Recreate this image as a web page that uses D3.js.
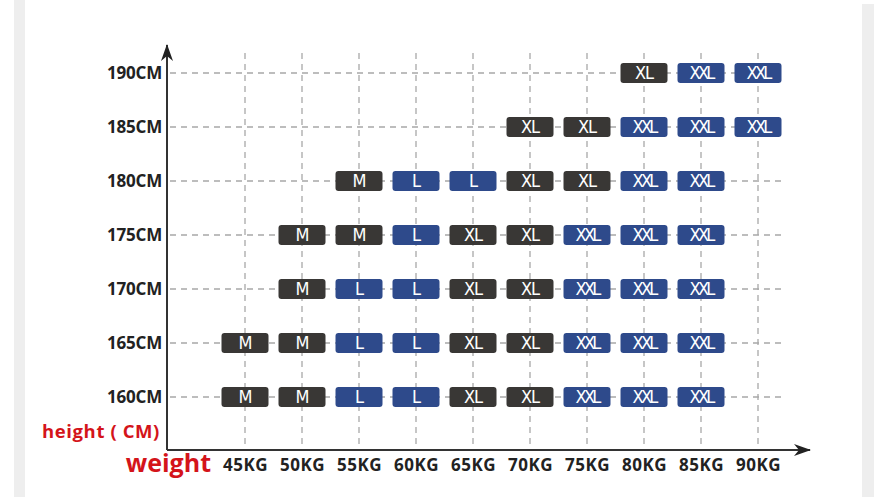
<!DOCTYPE html>
<html>
<head>
<meta charset="utf-8">
<script src="https://cdn.jsdelivr.net/npm/d3@7"></script>
<style>
  html, body { margin: 0; padding: 0; background: #fff; }
  svg { display: block; }
</style>
</head>
<body>
<svg></svg>
<script>
// weights along x, heights along y
const weights = [45, 50, 55, 60, 65, 70, 75, 80, 85, 90];
const heights = [160, 165, 170, 175, 180, 185, 190];

// size per weight column, one list per height row (null = no size)
const sizes160 = ["M", "M", "L", "L", "XL", "XL", "XXL", "XXL", "XXL", null];
const sizes165 = ["M", "M", "L", "L", "XL", "XL", "XXL", "XXL", "XXL", null];
const sizes170 = [null, "M", "L", "L", "XL", "XL", "XXL", "XXL", "XXL", null];
const sizes175 = [null, "M", "M", "L", "XL", "XL", "XXL", "XXL", "XXL", null];
const sizes180 = [null, null, "M", "L", "L", "XL", "XL", "XXL", "XXL", null];
const sizes185 = [null, null, null, null, null, "XL", "XL", "XXL", "XXL", "XXL"];
const sizes190 = [null, null, null, null, null, null, null, "XL", "XXL", "XXL"];

const sizeRows = [sizes160, sizes165, sizes170, sizes175, sizes180, sizes185, sizes190];

const cells = [];
heights.forEach((h, i) => {
  sizeRows[i].forEach((s, j) => {
    if (s) cells.push({height: h, weight: weights[j], size: s});
  });
});

const width = 885;
const height = 497;
const axisX = 167;   // where the y axis sits
const axisY = 450;   // where the x axis sits

const x = d3.scalePoint()
    .domain(weights)
    .range([245, 758]);

const y = d3.scalePoint()
    .domain(heights)
    .range([397, 73]);

const color = d3.scaleOrdinal()
    .domain(["M", "L", "XL", "XXL"])
    .range(["#393735", "#2e4a8b", "#393735", "#2e4a8b"]);

const svg = d3.select("svg")
    .attr("width", width)
    .attr("height", height)
    .attr("viewBox", [0, 0, width, height]);

// grey side strips of the card
svg.append("rect").attr("x", 14).attr("y", 0).attr("width", 11).attr("height", height).attr("fill", "#eeeeee");
svg.append("rect").attr("x", 862).attr("y", 4).attr("width", 12).attr("height", height - 4).attr("fill", "#eeeeee");

const defs = svg.append("defs");
defs.append("marker")
    .attr("id", "arrow")
    .attr("viewBox", "0 0 17 12")
    .attr("refX", 16).attr("refY", 6)
    .attr("markerWidth", 17).attr("markerHeight", 12)
    .attr("markerUnits", "userSpaceOnUse")
    .attr("orient", "auto")
  .append("path")
    .attr("d", "M0,0 L17,6 L0,12 L5,6 Z")
    .attr("fill", "#222");

// dashed grid
const grid = svg.append("g")
    .attr("stroke", "#a8a8a8")
    .attr("stroke-width", 1.3)
    .attr("stroke-dasharray", "6,5");

grid.selectAll("line.v")
  .data(weights)
  .join("line")
    .attr("class", "v")
    .attr("x1", d => x(d)).attr("x2", d => x(d))
    .attr("y1", 53).attr("y2", axisY);

grid.selectAll("line.h")
  .data(heights)
  .join("line")
    .attr("class", "h")
    .attr("x1", axisX + 3).attr("x2", 785)
    .attr("y1", d => y(d)).attr("y2", d => y(d));

// size boxes
const boxW = 47, boxH = 20;
const box = svg.append("g")
  .selectAll("g")
  .data(cells)
  .join("g")
    .attr("transform", d => `translate(${x(d.weight)},${y(d.height)})`);

box.append("rect")
    .attr("x", -boxW / 2).attr("y", -boxH / 2)
    .attr("width", boxW).attr("height", boxH)
    .attr("rx", 3)
    .attr("fill", d => color(d.size));

box.append("text")
    .attr("text-anchor", "middle")
    .attr("dy", "0.36em")
    .attr("fill", "#fff")
    .attr("font-family", "'Liberation Sans Narrow', 'DejaVu Sans Condensed', sans-serif")
    .attr("font-size", 18)
    .attr("letter-spacing", d => d.size === "XXL" ? -2.8 : -1)
    .text(d => d.size);

// axes lines with arrows
svg.append("line")
    .attr("x1", axisX).attr("y1", axisY)
    .attr("x2", axisX).attr("y2", 45)
    .attr("stroke", "#333").attr("stroke-width", 2)
    .attr("marker-end", "url(#arrow)");

svg.append("line")
    .attr("x1", axisX).attr("y1", axisY)
    .attr("x2", 810).attr("y2", axisY)
    .attr("stroke", "#333").attr("stroke-width", 2)
    .attr("marker-end", "url(#arrow)");

// tick labels
svg.append("g")
    .attr("transform", `translate(${axisX - 5},0)`)
    .call(d3.axisLeft(y).tickSize(0).tickPadding(0).tickFormat(d => d + "CM"))
    .call(g => g.select(".domain").remove())
    .call(g => g.selectAll("text")
        .attr("fill", "#222")
        .attr("font-family", "'Open Sans', sans-serif")
        .attr("font-weight", "bold")
        .attr("font-size", 17)
        .attr("letter-spacing", -0.2));

svg.append("g")
    .attr("transform", `translate(0,${axisY + 9})`)
    .call(d3.axisBottom(x).tickSize(0).tickPadding(0).tickFormat(d => d + "KG"))
    .call(g => g.select(".domain").remove())
    .call(g => g.selectAll("text")
        .attr("fill", "#222")
        .attr("font-family", "'Open Sans', sans-serif")
        .attr("font-weight", "bold")
        .attr("font-size", 17)
        .attr("letter-spacing", 0.5));

// axis titles
svg.append("text")
    .attr("x", 160).attr("y", 438)
    .attr("text-anchor", "end")
    .attr("fill", "#d4141a")
    .attr("font-family", "'Open Sans', sans-serif")
    .attr("font-weight", "bold")
    .attr("font-size", 18.5)
    .attr("letter-spacing", 0.6)
    .text("height ( CM)");

svg.append("text")
    .attr("x", 211).attr("y", 472)
    .attr("text-anchor", "end")
    .attr("fill", "#d4141a")
    .attr("font-family", "'Open Sans', sans-serif")
    .attr("font-weight", "bold")
    .attr("font-size", 25)
    .text("weight");
</script>
</body>
</html>
